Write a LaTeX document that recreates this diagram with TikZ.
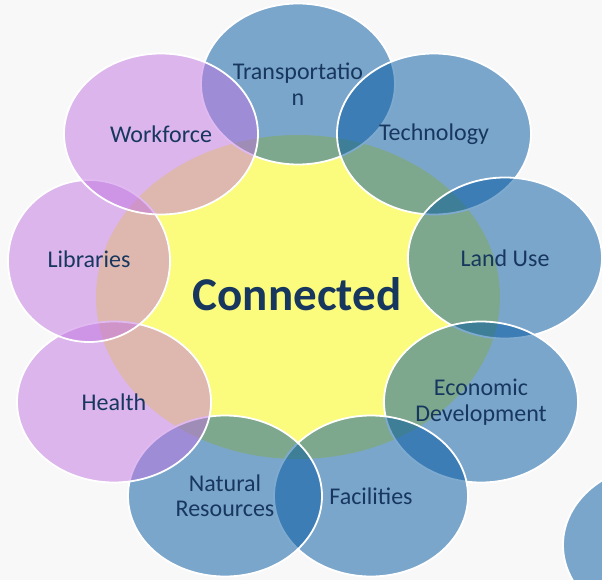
\documentclass[tikz,border=0pt]{standalone}
\usepackage{fontspec}
\setmainfont{Carlito}
\usetikzlibrary{shapes.geometric}

\definecolor{bggray}{RGB}{248,248,248}
\definecolor{bubbleblue}{RGB}{0,86,160}
\definecolor{bubblepurple}{RGB}{194,116,226}
\definecolor{coreyellow}{RGB}{251,251,125}
\definecolor{textnavy}{RGB}{23,55,94}

\begin{document}
\begin{tikzpicture}[x=1pt, y=-1pt,
  every node/.style={anchor=center, align=center, inner sep=0pt},
  bubble/.style={ellipse, draw=white, line width=1.8pt, fill opacity=0.5,
    minimum width=194pt, minimum height=161pt},
  bluebubble/.style={bubble, fill=bubbleblue},
  purplebubble/.style={bubble, fill=bubblepurple},
  tag/.style={text=textnavy, font=\fontsize{24}{25.5}\selectfont}]

  \useasboundingbox (0,0) rectangle (602,580);
  \clip (0,0) rectangle (602,580);
  \fill[bggray] (0,0) rectangle (602,580);

  % centre
  \node[ellipse, fill=coreyellow, minimum width=404pt, minimum height=324pt] (core) at (298,297) {};

  % ring of topics, clockwise from the top
  \node[bluebubble] (trans) at (298,84) {};
  \node[bluebubble] (tech)  at (434,134) {};
  \node[bluebubble] (land)  at (505,258) {};
  \node[bluebubble] (econ)  at (481,402) {};
  \node[bluebubble] (facil) at (371,496) {};
  \node[bluebubble] (natres) at (225,496) {};
  \node[purplebubble] (health) at (114,402) {};
  \node[purplebubble, minimum width=162pt, minimum height=162pt] (libr) at (89,261) {};
  \node[purplebubble] (work) at (161,134) {};
  \node[bluebubble] (extra) at (660,545) {};

  % texts
  \node[text=textnavy, font=\bfseries\fontsize{47}{49}\selectfont] (coretxt) at (297,294) {Connected};
  \node[tag] (transtxt) at (trans) {Transportatio\\n};
  \node[tag] (techtxt) at (tech) {Technology};
  \node[tag] (landtxt) at (land) {Land Use};
  \node[tag] (econtxt) at (econ) {Economic\\Development};
  \node[tag] (faciltxt) at (facil) {Facilities};
  \node[tag] (natrestxt) at (natres) {Natural\\Resources};
  \node[tag] (healthtxt) at (health) {Health};
  \node[tag] (librtxt) at ([yshift=2pt]libr.center) {Libraries};
  \node[tag] (worktxt) at (work) {Workforce};
\end{tikzpicture}
\end{document}
